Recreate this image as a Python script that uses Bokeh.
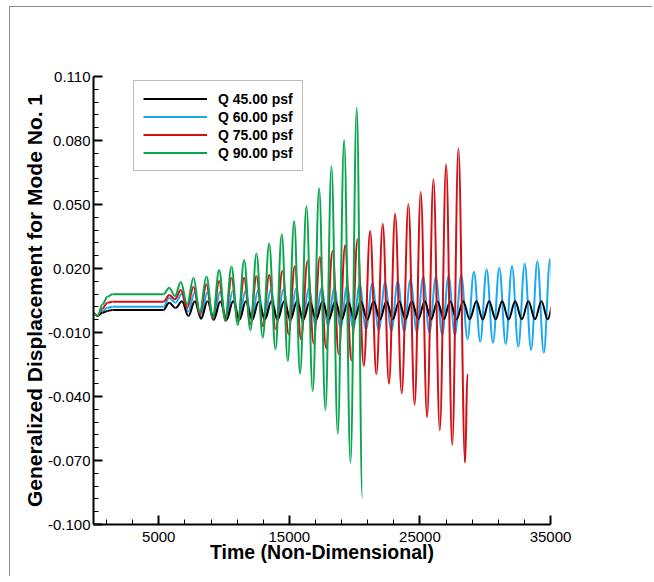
from bokeh.plotting import figure
from bokeh.models import (Range1d, FixedTicker, PrintfTickFormatter, Legend, LegendItem)
from bokeh.embed import file_html
from bokeh.resources import INLINE

# ---------------- data ----------------
x_ticks = [5000, 15000, 25000, 35000]
x_minor = [1000, 3000, 7000, 9000, 11000, 13000, 17000, 19000, 21000, 23000,
           27000, 29000, 31000, 33000]
y_ticks = [-0.100, -0.070, -0.040, -0.010, 0.020, 0.050, 0.080, 0.110]
y_minor = [-0.094, -0.088, -0.082, -0.076, -0.064, -0.058, -0.052, -0.046,
           -0.034, -0.028, -0.022, -0.016, -0.004, 0.002, 0.008, 0.014,
           0.026, 0.032, 0.038, 0.044, 0.056, 0.062, 0.068, 0.074,
           0.086, 0.092, 0.098, 0.104]

series_names = ["Q 45.00 psf", "Q 60.00 psf", "Q 75.00 psf", "Q 90.00 psf"]

# Q 45 (black) : start transient, plateau, then alternating peaks / troughs
t45 = [0, 311, 686, 1072, 1458, 5360,
       5796, 6282, 6776, 7268, 7757, 8244, 8729, 9219, 9709, 10195, 10689, 11181,
       11670, 12156, 12650, 13132, 13622, 14107, 14602, 15094, 15583, 16069,
       16562, 17056, 17542, 18031, 18514, 19006, 19495, 19982, 20475, 20968,
       21455, 21944, 22436, 22919, 23408, 23895, 24373, 24870, 25368, 25857,
       26340, 26832, 27313, 27808, 28308, 28815, 29327, 29812, 30299, 30799,
       31295, 31796, 32290, 32803, 33308, 33811, 34304, 34786, 35276]
v45 = [-0.0010, -0.0023, -0.0007, 0.0001, 0.0006, 0.0006,
       0.0040, 0.0015, 0.0046, -0.0023, 0.0046, -0.0036, 0.0046, -0.0040,
       0.0045, -0.0040, 0.0046, -0.0039, 0.0046, -0.0040, 0.0045, -0.0040,
       0.0046, -0.0039, 0.0046, -0.0040, 0.0046, -0.0039, 0.0045, -0.0040,
       0.0046, -0.0039, 0.0046, -0.0040, 0.0045, -0.0039, 0.0046, -0.0040,
       0.0046, -0.0039, 0.0046, -0.0038, 0.0047, -0.0039, 0.0047, -0.0038,
       0.0046, -0.0039, 0.0047, -0.0038, 0.0046, -0.0039, 0.0047, -0.0038,
       0.0046, -0.0039, 0.0047, -0.0038, 0.0046, -0.0039, 0.0047, -0.0038,
       0.0046, -0.0038, 0.0047, -0.0038, 0.0051]

# Q 60 (blue)
t60 = [0, 311, 686, 1072, 1458, 5360,
       5796, 6282, 6769, 7257, 7741, 8233, 8714, 9198, 9687, 10173, 10659, 11149,
       11631, 12114, 12604, 13089, 13576, 14065, 14548, 15040, 15521, 16005,
       16494, 16980, 17466, 17956, 18438, 18921, 19411, 19896, 20383, 20872,
       21355, 21847, 22329, 22812, 23301, 23788, 24273, 24763, 25246, 25728,
       26218, 26704, 27190, 27679, 28162, 28644, 29136, 29619, 30108, 30595,
       31080, 31570, 32053, 32535, 33025, 33511, 33997, 34486, 34970, 35276]
v60 = [-0.0010, -0.0023, 0.0001, 0.0016, 0.0021, 0.0021,
       0.0063, 0.0040, 0.0082, -0.0002, 0.0087, -0.0031, 0.0087, -0.0043,
       0.0091, -0.0045, 0.0095, -0.0043, 0.0095, -0.0038, 0.0098, -0.0042,
       0.0100, -0.0046, 0.0103, -0.0049, 0.0106, -0.0054, 0.0110, -0.0062,
       0.0110, -0.0070, 0.0112, -0.0078, 0.0118, -0.0082, 0.0126, -0.0086,
       0.0130, -0.0090, 0.0134, -0.0093, 0.0141, -0.0095, 0.0149, -0.0098,
       0.0160, -0.0101, 0.0160, -0.0109, 0.0165, -0.0112, 0.0170, -0.0132,
       0.0185, -0.0143, 0.0196, -0.0148, 0.0204, -0.0155, 0.0212, -0.0168,
       0.0223, -0.0182, 0.0235, -0.0195, 0.0245, -0.0033]

# Q 75 (red)
t75 = [0, 311, 686, 1072, 1458, 5360,
       5796, 6239, 6685, 7172, 7657, 8158, 8652, 9133, 9625, 10098, 10567, 11052,
       11539, 12006, 12481, 12971, 13454, 13957, 14472, 14944, 15414, 15898,
       16387, 16863, 17328, 17817, 18300, 18781, 19273, 19746, 20215, 20700,
       21187, 21665, 22152, 22630, 23102, 23605, 24120, 24592, 25062, 25546,
       26035, 26521, 27007, 27475, 27948, 28462, 28637]
v75 = [-0.0010, -0.0023, 0.0013, 0.0040, 0.0044, 0.0044,
       0.0076, 0.0056, 0.0099, 0.0016, 0.0115, -0.0015, 0.0126, -0.0038,
       0.0141, -0.0046, 0.0157, -0.0046, 0.0157, -0.0062, 0.0165, -0.0070,
       0.0170, -0.0085, 0.0190, -0.0109, 0.0212, -0.0132, 0.0235, -0.0153,
       0.0254, -0.0174, 0.0282, -0.0202, 0.0309, -0.0231, 0.0337, -0.0257,
       0.0376, -0.0296, 0.0410, -0.0340, 0.0457, -0.0386, 0.0502, -0.0440,
       0.0559, -0.0497, 0.0619, -0.0559, 0.0689, -0.0628, 0.0764, -0.0711,
       -0.0293]

# Q 90 (green)
t90 = [0, 311, 686, 1072, 1458, 5360,
       5796, 6239, 6685, 7172, 7657, 8136, 8652, 9133, 9625, 10088, 10567, 11052,
       11539, 12017, 12481, 12960, 13454, 13936, 14418, 14879, 15368, 15823,
       16309, 16788, 17282, 17763, 18224, 18706, 19196, 19682, 20161, 20593]
v90 = [-0.0010, -0.0023, 0.0032, 0.0068, 0.0079, 0.0079,
       0.0110, 0.0071, 0.0137, 0.0032, 0.0157, -0.0007, 0.0162, -0.0031,
       0.0193, -0.0043, 0.0209, -0.0065, 0.0240, -0.0090, 0.0270, -0.0124,
       0.0317, -0.0179, 0.0361, -0.0234, 0.0423, -0.0293, 0.0493, -0.0375,
       0.0576, -0.0465, 0.0681, -0.0575, 0.0803, -0.0711, 0.0955, -0.0875]

colors = ["#000000", "#19a9f2", "#d10f14", "#0aa64e"]

# ---------------- figure ----------------
FONT = "Liberation Sans"
p = figure(frame_width=457, frame_height=448,
           min_border_left=83, min_border_top=69, min_border_right=102,
           min_border_bottom=52,
           x_range=Range1d(0, 35000), y_range=Range1d(-0.100, 0.110),
           output_backend="svg", toolbar_location=None)
p.styles = {"margin-left": "9px", "margin-top": "6px",
            "border-left": "1px solid #8a8a8a", "border-top": "1px solid #8a8a8a"}
p.outline_line_color = None
p.xgrid.visible = False
p.ygrid.visible = False
p.background_fill_color = "white"
p.border_fill_alpha = 0


def smooth(ts, vs, color):
    # each stretch between two read extrema drawn as an S-shaped Bezier
    # with flat tangents at both read points
    x0 = ts[:-1]
    x1 = ts[1:]
    y0 = vs[:-1]
    y1 = vs[1:]
    cx0 = [a + 0.36 * (b - a) for a, b in zip(x0, x1)]
    cx1 = [b - 0.36 * (b - a) for a, b in zip(x0, x1)]
    p.bezier(x0=x0, y0=y0, x1=x1, y1=y1, cx0=cx0, cy0=y0, cx1=cx1, cy1=y1,
             line_color=color, line_width=2)
    # one-point line (draws nothing in the plot) used as the legend swatch
    return p.line(x=ts[:1], y=vs[:1], line_color=color, line_width=2)


r60 = smooth(t60, v60, colors[1])
r45 = smooth(t45, v45, colors[0])
r75 = smooth(t75, v75, colors[2])
r90 = smooth(t90, v90, colors[3])

for ax in (p.xaxis[0], p.yaxis[0]):
    ax.axis_line_width = 2
    ax.axis_line_color = "black"
    ax.major_tick_in = 9
    ax.major_tick_out = 0
    ax.minor_tick_in = 5
    ax.minor_tick_out = 0
    ax.major_tick_line_width = 2
    ax.minor_tick_line_width = 1
    ax.major_label_text_font = FONT
    ax.major_label_text_font_size = "15px"
    ax.major_label_text_color = "black"
    ax.axis_label_text_font = FONT
    ax.axis_label_text_font_style = "bold"
    ax.axis_label_text_color = "black"

p.xaxis.axis_label_text_font_size = "19.5px"
p.yaxis.axis_label_text_font_size = "21px"
p.xaxis.ticker = FixedTicker(ticks=x_ticks, minor_ticks=x_minor)
p.yaxis.ticker = FixedTicker(ticks=y_ticks, minor_ticks=y_minor)
p.yaxis.formatter = PrintfTickFormatter(format="%.3f")
p.xaxis.axis_label = "Time (Non-Dimensional)"
p.yaxis.axis_label = "Generalized Displacement for Mode No. 1"
p.xaxis.major_label_standoff = 7
p.yaxis.major_label_standoff = 3
p.xaxis.axis_label_standoff = -4
p.yaxis.axis_label_standoff = -1

legend = Legend(items=[LegendItem(label=series_names[0], renderers=[r45]),
                       LegendItem(label=series_names[1], renderers=[r60]),
                       LegendItem(label=series_names[2], renderers=[r75]),
                       LegendItem(label=series_names[3], renderers=[r90])],
                location=(40, 353), orientation="vertical")
legend.padding = 9
legend.spacing = 1
legend.glyph_height = 17
legend.label_height = 17
legend.glyph_width = 64
legend.label_standoff = 11
legend.margin = 0
legend.border_line_color = "#7a7a7a"
legend.border_line_width = 1
legend.background_fill_alpha = 1
legend.label_text_font = FONT
legend.label_text_font_style = "bold"
legend.label_text_font_size = "14px"
legend.label_text_color = "black"
p.add_layout(legend, "center")

open("out.html", "w").write(file_html(p, INLINE))
